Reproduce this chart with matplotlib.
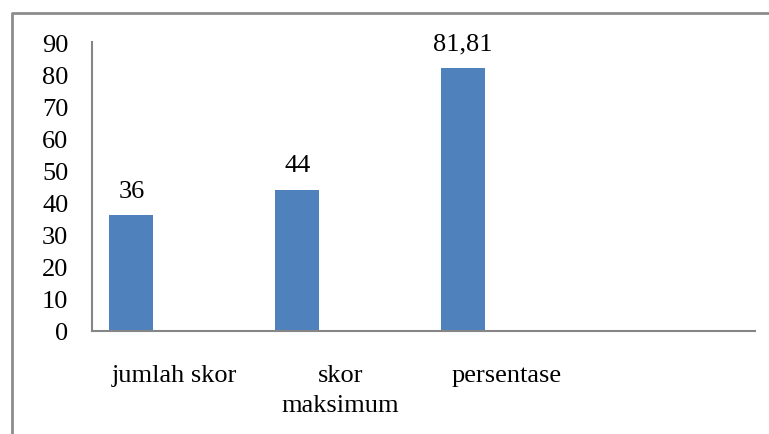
import numpy as np
import matplotlib.pyplot as plt
from matplotlib.lines import Line2D

# data
kategori = ['jumlah skor', 'skor\nmaksimum', 'persentase', '']
nilai = [36, 44, 81.81]
label_nilai = ['36', '44', '81,81']
yticks = [0, 10, 20, 30, 40, 50, 60, 70, 80, 90]

plt.rcParams['font.family'] = ['Liberation Serif', 'DejaVu Serif']

fig = plt.figure(figsize=(7.69, 4.35), dpi=100)
ax = fig.add_axes([0.1196, 0.2368, 0.8622, 0.6643])

x = np.arange(len(nilai))
offset = -0.262
bars = ax.bar(x + offset, nilai, width=0.265, color='#4F81BD')

for b, t in zip(bars, label_nilai):
    ax.text(b.get_x() + b.get_width() / 2, b.get_height() + 4.3, t,
            ha='center', va='bottom', fontsize=19)

ax.set_xlim(-0.5, 3.5)
ax.set_ylim(0, 90)
ax.set_yticks(yticks)
ax.set_yticklabels([str(v) for v in yticks], fontsize=19)
ax.set_xticks(np.arange(len(kategori)))
ax.set_xticklabels(kategori, fontsize=19, linespacing=1.45)
ax.tick_params(axis='both', length=0)
ax.tick_params(axis='y', pad=17)
ax.tick_params(axis='x', pad=24)

for s in ['top', 'right']:
    ax.spines[s].set_visible(False)
for s in ['left', 'bottom']:
    ax.spines[s].set_color('#868686')
    ax.spines[s].set_linewidth(1.5)

# bingkai luar
fig.add_artist(Line2D([12 / 769, 12 / 769, 1.0], [0.0, 1 - 14 / 435, 1 - 14 / 435],
                      transform=fig.transFigure, color='#8c8c8c', linewidth=2))

fig.savefig('out.png', dpi=100)
